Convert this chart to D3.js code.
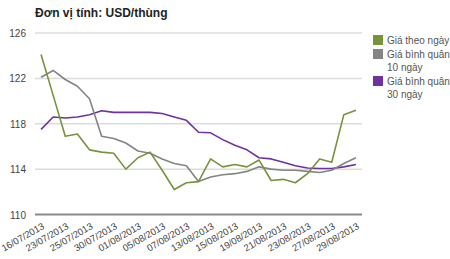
<!DOCTYPE html>
<html>
<head>
<meta charset="utf-8">
<script src="https://d3js.org/d3.v7.min.js"></script>
<style>
  body { margin: 0; background: #fff; }
  text { font-family: "Liberation Sans", Arial, sans-serif; }
</style>
</head>
<body>
<div id="chart"></div>
<script>
// dates (every other one is shown on the axis)
var dates = ["16/07/2013","18/07/2013","23/07/2013","24/07/2013","25/07/2013","29/07/2013",
  "30/07/2013","31/07/2013","01/08/2013","02/08/2013","05/08/2013","06/08/2013","07/08/2013",
  "12/08/2013","13/08/2013","14/08/2013","15/08/2013","16/08/2013","19/08/2013","20/08/2013",
  "21/08/2013","22/08/2013","23/08/2013","26/08/2013","27/08/2013","28/08/2013","29/08/2013"];
var daily = [124.1,120.5,116.9,117.1,115.7,115.5,115.4,114.0,115.0,115.5,113.9,112.2,112.8,
  112.9,114.9,114.2,114.4,114.2,114.8,113.0,113.1,112.8,113.6,114.9,114.6,118.8,119.2];
var avg10 = [122.1,122.7,121.9,121.3,120.2,116.9,116.7,116.3,115.6,115.4,114.9,114.5,114.3,
  112.9,113.3,113.5,113.6,113.8,114.2,114.0,113.9,113.9,113.8,113.7,113.9,114.5,115.0];
var avg30 = [117.5,118.6,118.5,118.6,118.8,119.15,119.0,119.0,119.0,119.0,118.9,118.6,118.3,
  117.25,117.2,116.6,116.1,115.7,115.0,114.9,114.6,114.3,114.1,114.05,114.05,114.2,114.4];
var yTicks = [110, 114, 118, 122, 126];
var seriesNames = [["Giá theo ngày"], ["Giá bình quân", "10 ngày"], ["Giá bình quân", "30 ngày"]];
var colors = ["#77933c", "#848484", "#7030a0"];

var width = 450, height = 259;
var svg = d3.select("#chart").append("svg")
  .attr("width", width).attr("height", height);

var plotLeft = 35, plotRight = 362, plotTop = 33, plotBottom = 214.5;

var x = d3.scalePoint().domain(dates).range([plotLeft, plotRight]).padding(0.5);
var y = d3.scaleLinear().domain([110, 126]).range([plotBottom, plotTop]);

svg.append("text")
  .attr("x", 35).attr("y", 17)
  .attr("font-size", 12).attr("font-weight", "bold").attr("fill", "#222")
  .text("Đơn vị tính: USD/thùng");

// grid lines
svg.selectAll(".grid").data(yTicks.slice(1)).enter().append("line")
  .attr("x1", plotLeft).attr("x2", plotRight)
  .attr("y1", function(d) { return y(d); }).attr("y2", function(d) { return y(d); })
  .attr("stroke", "#dcdcdc").attr("stroke-width", 1.5);

svg.append("line")
  .attr("x1", plotLeft).attr("x2", plotRight)
  .attr("y1", y(110)).attr("y2", y(110))
  .attr("stroke", "#8a8a8a").attr("stroke-width", 2);

svg.selectAll(".ylab").data(yTicks).enter().append("text")
  .attr("x", 26).attr("y", function(d) { return y(d) + 4; })
  .attr("text-anchor", "end").attr("font-size", 10).attr("fill", "#444")
  .text(function(d) { return d; });

// x labels
svg.selectAll(".xlab").data(dates.filter(function(d, i) { return i % 2 === 0; }))
  .enter().append("text")
  .attr("transform", function(d) { return "translate(" + (x(d) + 4) + "," + 228 + ") rotate(-30)"; })
  .attr("text-anchor", "end").attr("font-size", 9.5).attr("fill", "#444")
  .text(function(d) { return d; });

var line = d3.line()
  .x(function(d, i) { return x(dates[i]); })
  .y(function(d) { return y(d); });

[avg30, avg10, daily].forEach(function(s, k) {
  svg.append("path")
    .attr("d", line(s))
    .attr("fill", "none")
    .attr("stroke", colors[2 - k])
    .attr("stroke-width", 1.6)
    .attr("stroke-linejoin", "round");
});

// legend
var legY = [35, 49, 76];
var leg = svg.selectAll(".leg").data(seriesNames).enter().append("g")
  .attr("transform", function(d, i) { return "translate(373," + legY[i] + ")"; });
leg.append("rect").attr("width", 10).attr("height", 10)
  .attr("fill", function(d, i) { return colors[i]; });
leg.each(function(d) {
  var g = d3.select(this);
  d.forEach(function(t, j) {
    g.append("text").attr("x", 14).attr("y", 9 + j * 13)
      .attr("font-size", 10).attr("fill", "#555").text(t);
  });
});
</script>
</body>
</html>
